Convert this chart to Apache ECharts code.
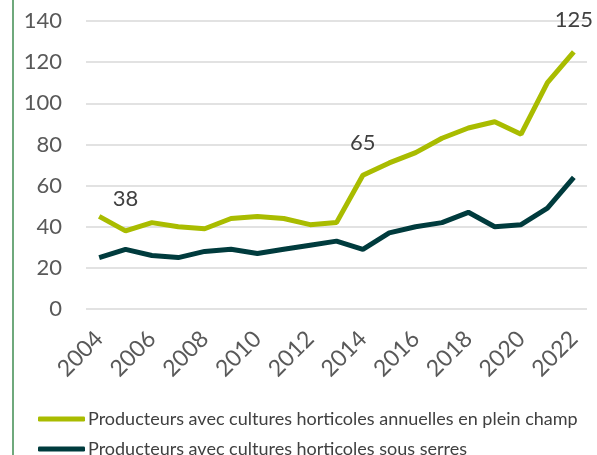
<!DOCTYPE html>
<html><head><meta charset="utf-8">
<script src="https://cdn.jsdelivr.net/npm/echarts@6/dist/echarts.min.js"></script>
<style>html,body{margin:0;padding:0;background:#fff}#c{width:597px;height:455px}</style>
</head><body><div id="c"></div>
<script>
const years = ['2004','2005','2006','2007','2008','2009','2010','2011','2012','2013','2014','2015','2016','2017','2018','2019','2020','2021','2022'];
const pleinChamp = [45,38,42,40,39,44,45,44,41,42,65,71,76,83,88,91,85,110,125];
const sousSerres = [25,29,26,25,28,29,27,29,31,33,29,37,40,42,47,40,41,49,64];
const labelledYears = ['2005','2014','2022'];
const seriesNames = ['Producteurs avec cultures horticoles annuelles en plein champ','Producteurs avec cultures horticoles sous serres'];
const FONT = 'Lato';
const chart = echarts.init(document.getElementById('c'));
chart.setOption({
  animation:false,
  textStyle:{fontFamily:FONT},
  graphic:[{type:'line',shape:{x1:13,y1:0,x2:13,y2:455},style:{stroke:'#6fa97c',lineWidth:2}}],
  grid:{left:86,right:10,top:21,bottom:146},
  xAxis:{type:'category',data:years,boundaryGap:true,
    axisLine:{show:false},axisTick:{show:false},
    axisLabel:{interval:1,rotate:45,fontSize:23,color:'#595959',fontFamily:FONT,margin:26}},
  yAxis:{type:'value',min:0,max:140,interval:20,
    axisLine:{show:false},axisTick:{show:false},
    splitLine:{lineStyle:{color:'#d9d9d9',width:1.5}},
    axisLabel:{fontSize:22,color:'#595959',fontFamily:FONT,margin:24}},
  legend:{orient:'vertical',left:33,top:405,height:70,itemGap:12,itemWidth:47,itemHeight:5,icon:'roundRect',
    textStyle:{fontSize:18,color:'#404040',fontFamily:FONT,padding:[0,0,0,-2]},
    data:seriesNames},
  series:[
    {name:seriesNames[0],type:'line',symbol:'circle',symbolSize:0,showSymbol:true,
     data:pleinChamp.map((v,i)=>({value:v,label:{show:labelledYears.includes(years[i])}})),
     lineStyle:{width:5,color:'#a9bc00'},itemStyle:{color:'#a9bc00'},
     label:{show:false,position:'top',distance:21,fontSize:22,color:'#404040',fontFamily:FONT}},
    {name:seriesNames[1],type:'line',data:sousSerres,symbol:'none',lineStyle:{width:5,color:'#003b3d'},itemStyle:{color:'#003b3d'}}
  ]
});
</script></body></html>
